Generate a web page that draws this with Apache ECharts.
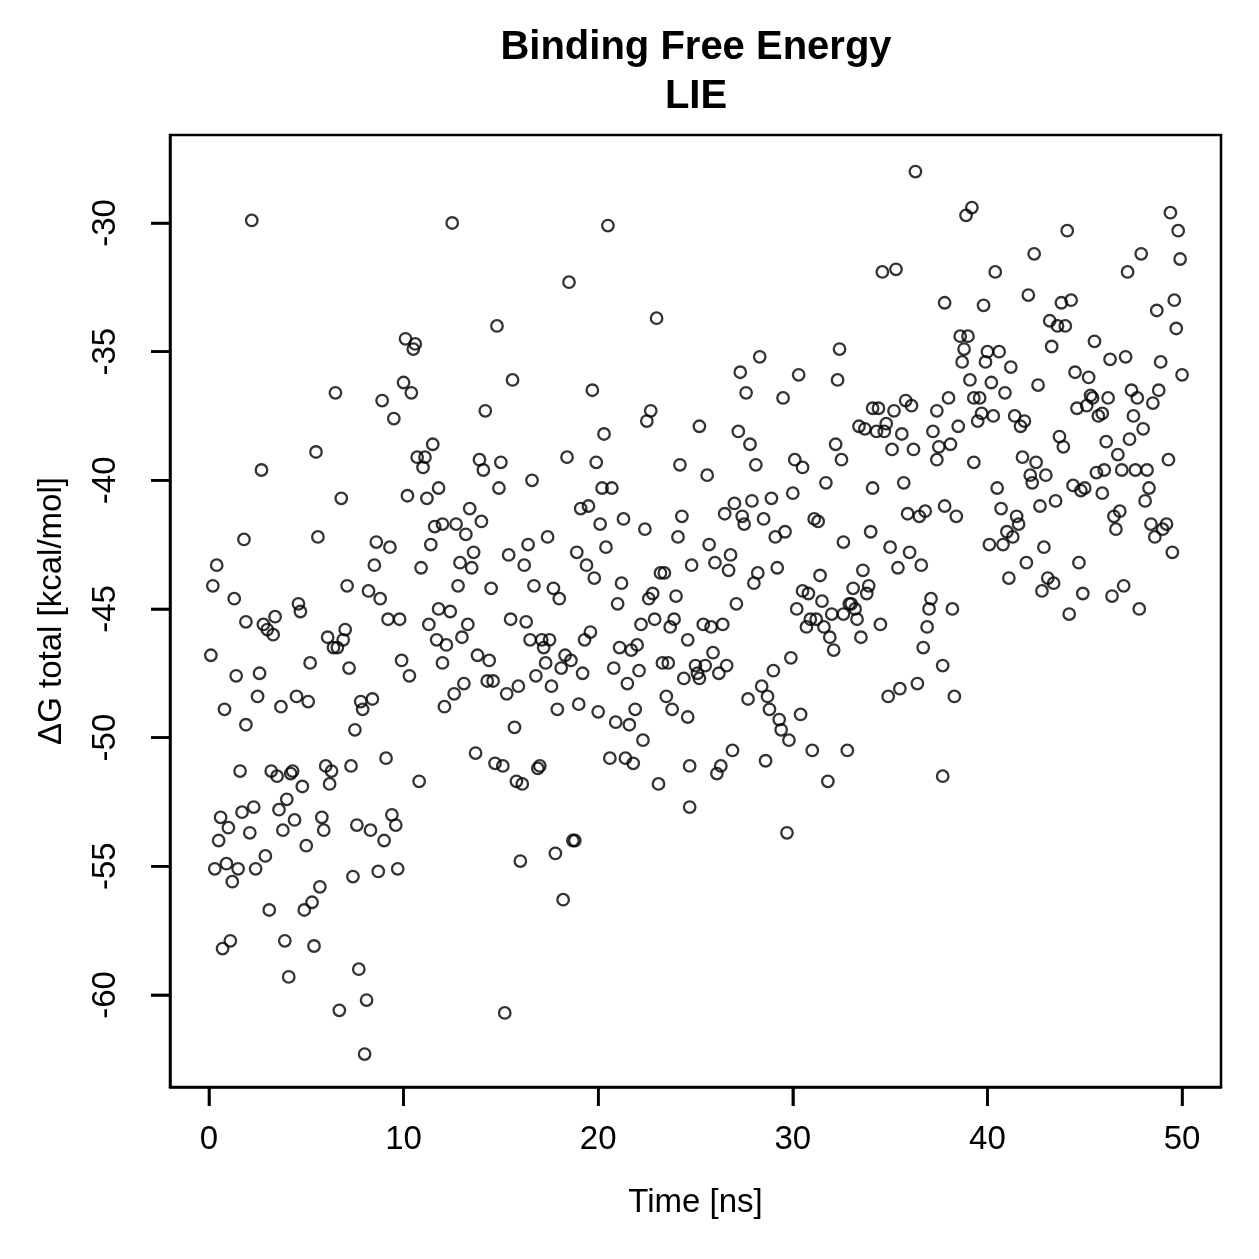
<!DOCTYPE html>
<html>
<head>
<meta charset="utf-8">
<title>Binding Free Energy - LIE</title>
<script src="https://cdn.jsdelivr.net/npm/echarts@6/dist/echarts.min.js"></script>
<style>
    html, body { margin: 0; padding: 0; background: #fff; }
    #chart { width: 1259px; height: 1259px; }
</style>
</head>
<body>
<div id="chart"></div>
<script>
// Simulation time of each frame [ns]
const timeNs = [
    2.2, 10.1, 10.6, 10.5, 10.0, 10.4, 6.5, 8.9, 9.5, 5.5,
    11.5, 10.7, 11.1, 11.0, 2.7, 6.8, 1.8, 5.6, 0.4, 0.2,
    1.3, 1.9, 2.8, 3.0, 3.3, 3.4, 4.6, 4.7, 0.1, 1.4,
    2.6, 5.2, 2.5, 0.8, 3.7, 4.5, 5.1, 1.9, 6.1, 7.0,
    6.9, 6.4, 6.6, 7.2, 7.8, 8.4, 7.9, 7.5, 9.1, 8.6,
    9.3, 8.5, 7.1, 8.2, 8.8, 9.2, 9.8, 9.9, 10.3, 10.2,
    11.2, 11.8, 11.6, 12.0, 11.4, 10.9, 11.8, 11.3, 11.7, 12.0,
    12.1, 1.6, 3.2, 3.5, 4.3, 4.2, 6.0, 6.3, 7.3, 10.8,
    6.2, 4.8, 4.0, 3.6, 2.3, 1.7, 0.6, 1.0, 2.1, 3.8,
    4.4, 5.8, 5.9, 5.0, 7.6, 8.3, 9.0, 9.4, 9.6, 0.5,
    2.9, 0.9, 0.3, 1.5, 1.2, 2.4, 7.4, 8.7, 9.7, 5.7,
    5.3, 4.9, 3.1, 1.1, 0.7, 3.9, 5.4, 7.7, 4.1, 8.1,
    6.7, 8.0, 12.5, 20.5, 18.5, 14.8, 23.0, 15.6, 19.7, 14.2,
    22.7, 22.5, 20.3, 13.9, 14.1, 15.0, 18.4, 19.9, 24.2, 14.9,
    16.6, 20.2, 20.7, 13.4, 19.1, 19.5, 24.3, 21.3, 12.7, 14.0,
    13.2, 20.1, 22.4, 17.4, 24.1, 16.4, 20.4, 13.6, 12.9, 13.5,
    15.4, 16.2, 18.9, 19.4, 19.8, 24.8, 23.2, 23.4, 12.8, 14.5,
    16.7, 17.7, 18.0, 21.2, 21.0, 22.8, 22.6, 24.0, 12.4, 15.5,
    16.3, 13.3, 13.0, 12.2, 19.6, 19.3, 22.2, 22.9, 23.9, 23.7,
    24.6, 16.5, 17.1, 17.5, 17.2, 21.1, 21.7, 22.0, 13.8, 14.4,
    18.3, 18.6, 17.3, 18.1, 19.2, 20.8, 22.1, 23.3, 23.6, 24.4,
    13.1, 14.3, 14.6, 16.8, 15.9, 15.3, 17.6, 21.5, 12.6, 19.0,
    17.9, 20.0, 23.5, 21.9, 23.8, 24.6, 20.9, 21.6, 15.7, 22.3,
    13.7, 14.7, 15.1, 17.0, 20.6, 21.4, 21.8, 24.7, 16.9, 15.8,
    16.1, 23.1, 24.7, 18.7, 18.8, 17.8, 16.0, 18.2, 15.2, 36.3,
    34.6, 35.3, 37.8, 28.3, 32.4, 27.3, 30.3, 32.3, 27.6, 29.5,
    25.2, 27.2, 27.8, 32.2, 34.1, 34.4, 35.2, 35.8, 36.1, 37.4,
    33.4, 33.7, 34.3, 34.7, 34.8, 35.6, 37.2, 35.1, 36.2, 37.5,
    28.1, 30.1, 32.5, 37.4, 25.6, 30.5, 31.7, 34.1, 35.7, 30.0,
    28.9, 27.9, 27.0, 26.5, 27.4, 27.5, 28.5, 31.1, 31.3, 35.9,
    36.5, 36.8, 37.8, 29.6, 29.1, 34.0, 32.6, 35.0, 36.0, 36.6,
    35.4, 25.7, 26.8, 26.0, 26.7, 29.2, 28.2, 28.0, 33.6, 31.4,
    33.1, 33.9, 33.8, 30.5, 30.8, 27.1, 31.5, 32.9, 33.0, 33.2,
    32.6, 32.0, 30.2, 33.3, 30.9, 31.2, 30.7, 31.6, 34.5, 31.9,
    32.1, 33.5, 37.1, 37.0, 36.9, 36.7, 37.7, 25.4, 25.8, 26.4,
    25.9, 25.0, 25.1, 25.2, 25.5, 26.6, 26.2, 29.9, 29.0, 28.4,
    28.7, 27.7, 28.8, 30.4, 29.3, 29.4, 29.8, 26.9, 31.0, 32.8,
    36.4, 35.5, 34.9, 28.6, 26.3, 26.1, 31.8, 37.7, 29.7, 39.2,
    38.9, 44.1, 49.4, 49.8, 42.4, 40.4, 47.9, 49.9, 47.2, 42.1,
    39.8, 43.8, 44.3, 43.2, 43.6, 44.0, 49.6, 48.7, 49.7, 38.6,
    39.0, 38.8, 45.5, 43.3, 40.0, 40.6, 39.9, 38.7, 41.2, 46.3,
    47.1, 48.9, 39.1, 40.2, 40.9, 42.6, 44.5, 45.2, 50.0, 38.0,
    39.3, 39.6, 39.7, 39.5, 40.3, 41.4, 41.9, 41.7, 38.5, 44.6,
    45.1, 45.3, 45.4, 46.2, 45.9, 45.7, 47.4, 47.7, 48.8, 48.5,
    47.5, 48.0, 38.1, 43.7, 43.9, 46.1, 47.3, 46.7, 41.8, 42.5,
    39.3, 49.3, 42.2, 42.3, 43.0, 40.5, 44.4, 44.8, 45.0, 45.6,
    46.0, 46.9, 47.6, 48.2, 48.3, 48.1, 45.9, 43.5, 42.7, 38.4,
    40.7, 41.5, 41.6, 41.0, 41.3, 40.1, 40.8, 42.9, 42.0, 44.7,
    46.8, 46.5, 46.6, 48.4, 49.2, 49.0, 48.6, 49.5, 41.1, 43.1,
    43.4, 42.8, 44.9, 47.0, 46.4, 44.2, 47.8, 38.2, 38.3
];

// Total binding free energy for the same frames [kcal/mol]
const deltaG = [
    -29.9, -34.5, -34.7, -34.9, -36.2, -36.6, -36.6, -36.9, -37.6, -38.9,
    -38.6, -39.1, -39.1, -39.5, -39.6, -40.7, -42.3, -42.2, -43.3, -44.1,
    -44.6, -45.5, -45.6, -45.8, -46.0, -45.3, -44.8, -45.1, -46.8, -47.6,
    -47.5, -47.1, -48.4, -48.9, -48.8, -48.4, -48.6, -49.5, -46.1, -45.8,
    -46.2, -46.5, -46.5, -47.3, -48.6, -48.5, -48.9, -49.7, -50.8, -42.4,
    -42.6, -43.3, -44.1, -44.3, -44.6, -45.4, -45.4, -47.0, -47.6, -40.6,
    -40.7, -40.3, -41.8, -41.7, -42.5, -43.4, -45.0, -45.6, -46.2, -47.1,
    -48.8, -51.3, -51.3, -51.5, -51.3, -51.4, -51.1, -51.3, -51.1, -51.7,
    -51.8, -51.9, -52.4, -52.8, -52.7, -52.9, -53.1, -53.5, -53.7, -53.6,
    -53.2, -53.1, -53.6, -54.2, -53.4, -53.6, -54.0, -53.0, -53.4, -54.0,
    -54.6, -54.9, -55.1, -55.1, -55.6, -55.1, -55.4, -55.2, -55.1, -55.8,
    -56.4, -56.7, -56.7, -57.9, -58.2, -57.9, -58.1, -59.0, -59.3, -60.2,
    -60.6, -62.3, -30.0, -30.1, -32.3, -34.0, -33.7, -36.1, -36.5, -37.3,
    -37.3, -37.7, -38.2, -39.2, -39.6, -39.3, -39.1, -39.3, -39.4, -40.3,
    -40.0, -40.3, -40.3, -41.1, -41.1, -41.0, -41.4, -41.5, -41.7, -41.6,
    -42.1, -41.7, -41.9, -42.2, -42.2, -42.5, -42.6, -42.8, -43.2, -43.4,
    -42.9, -43.3, -42.8, -43.3, -43.8, -43.3, -43.6, -43.6, -44.1, -44.2,
    -44.1, -44.2, -44.6, -44.0, -44.8, -44.4, -44.6, -44.5, -45.1, -45.4,
    -45.5, -45.6, -46.1, -46.4, -45.9, -46.2, -45.6, -45.4, -45.4, -45.7,
    -46.2, -46.2, -46.2, -46.2, -46.5, -46.5, -46.6, -46.4, -46.8, -47.0,
    -46.8, -47.0, -47.1, -47.3, -47.5, -47.3, -47.4, -47.1, -47.1, -47.7,
    -47.9, -47.8, -47.8, -47.6, -48.0, -48.3, -48.0, -47.9, -48.3, -48.7,
    -48.9, -49.0, -48.4, -48.9, -48.9, -49.2, -49.4, -49.5, -49.6, -50.1,
    -50.6, -51.0, -51.1, -51.1, -50.8, -50.8, -51.0, -51.1, -51.2, -51.7,
    -51.8, -51.8, -52.7, -54.0, -54.0, -54.5, -54.8, -56.3, -60.7, -28.0,
    -31.9, -31.8, -33.1, -35.2, -34.9, -35.8, -35.9, -36.1, -36.6, -36.8,
    -37.9, -38.1, -38.6, -38.6, -37.2, -37.2, -37.3, -36.9, -37.1, -37.3,
    -37.9, -38.0, -38.1, -38.1, -37.8, -38.2, -38.1, -38.8, -38.8, -38.7,
    -39.4, -39.2, -39.2, -39.2, -39.8, -39.5, -40.1, -40.3, -40.1, -40.5,
    -40.7, -40.8, -40.9, -41.3, -41.4, -41.7, -41.5, -41.5, -41.6, -41.3,
    -41.4, -41.2, -41.0, -42.0, -42.2, -42.0, -42.4, -42.6, -42.8, -43.3,
    -43.4, -42.5, -42.9, -43.2, -43.5, -43.4, -43.6, -44.0, -43.5, -43.7,
    -44.2, -44.1, -44.4, -44.3, -44.4, -44.8, -44.7, -44.8, -44.8, -45.0,
    -45.2, -45.2, -45.0, -45.4, -45.4, -45.4, -45.7, -45.7, -45.6, -46.1,
    -46.6, -46.1, -44.6, -45.0, -45.7, -46.5, -47.2, -45.6, -45.7, -45.6,
    -46.7, -47.2, -47.5, -47.7, -47.2, -47.2, -47.5, -46.9, -47.4, -48.0,
    -48.4, -48.5, -48.9, -49.1, -49.3, -49.7, -50.1, -50.5, -50.5, -50.5,
    -47.9, -48.1, -48.4, -50.9, -51.1, -51.4, -51.7, -51.5, -53.7, -29.4,
    -29.7, -30.3, -29.6, -30.3, -31.2, -31.9, -31.2, -31.4, -31.9, -32.8,
    -33.2, -33.1, -33.0, -33.8, -34.0, -34.0, -33.0, -33.4, -34.1, -34.4,
    -34.4, -34.9, -34.6, -34.8, -35.0, -35.0, -35.4, -35.4, -35.6, -35.3,
    -35.2, -35.4, -36.1, -36.2, -36.6, -36.3, -35.8, -36.0, -35.9, -36.8,
    -36.8, -36.8, -37.4, -37.7, -37.5, -37.5, -37.7, -37.9, -37.9, -37.2,
    -37.1, -36.7, -36.8, -36.8, -37.4, -37.5, -36.5, -36.8, -36.5, -37.0,
    -37.5, -38.0, -38.6, -38.3, -38.7, -38.5, -38.4, -39.0, -39.1, -39.3,
    -39.3, -39.2, -39.8, -40.1, -39.8, -40.3, -40.2, -40.4, -40.3, -39.7,
    -39.6, -39.6, -39.6, -39.6, -40.3, -40.8, -40.5, -40.8, -41.0, -41.4,
    -41.1, -41.4, -41.7, -42.0, -42.2, -42.5, -42.5, -42.6, -43.2, -43.2,
    -41.2, -41.4, -41.9, -41.7, -41.7, -41.9, -42.2, -42.8, -43.8, -43.8,
    -44.0, -44.3, -44.4, -44.1, -44.5, -45.2, -45.0, -45.0, -48.4
];

// Axis ticks
const xTicks = [0, 10, 20, 30, 40, 50];
const yTicks = [-60, -55, -50, -45, -40, -35, -30];

const FONT = '"Liberation Sans", Arial, Helvetica, sans-serif';
const TICK_LEN = 19;

document.addEventListener('DOMContentLoaded', function() {
    const chart = echarts.init(document.getElementById('chart'), null, { renderer: 'canvas' });

    // pair up time and energy
    const points = timeNs.map((t, i) => [t, deltaG[i]]);

    const xRange = { min: -2, max: 52 };
    const yRange = { min: -63.58, max: -26.58 };

    // outward tick marks, positioned through the axes' own scales
    function renderXTick(params, api) {
        const p = api.coord([api.value(0), api.value(1)]);
        return {
            type: 'line',
            shape: { x1: p[0], y1: p[1], x2: p[0], y2: p[1] + TICK_LEN },
            style: { stroke: '#000', lineWidth: 2.5 }
        };
    }
    function renderYTick(params, api) {
        const p = api.coord([api.value(0), api.value(1)]);
        return {
            type: 'line',
            shape: { x1: p[0], y1: p[1], x2: p[0] - TICK_LEN, y2: p[1] },
            style: { stroke: '#000', lineWidth: 2.5 }
        };
    }

    const option = {
        animation: false,
        backgroundColor: '#fff',
        title: {
            text: 'Binding Free Energy\nLIE',
            left: 696,
            top: 23,
            padding: 0,
            textAlign: 'center',
            textStyle: {
                fontFamily: FONT,
                fontSize: 40,
                fontWeight: 'bold',
                color: '#000',
                lineHeight: 49
            }
        },
        grid: {
            left: 170,
            top: 135,
            width: 1051,
            height: 952,
            show: true,
            borderColor: '#000',
            borderWidth: 2.5
        },
        // axis titles
        graphic: [
            {
                type: 'text',
                x: 695.5,
                y: 1203,
                style: { text: 'Time [ns]', fontFamily: FONT, fontSize: 33, fill: '#000', align: 'center', verticalAlign: 'middle' }
            },
            {
                type: 'text',
                x: 52,
                y: 611,
                rotation: Math.PI / 2,
                style: { text: 'ΔG total [kcal/mol]', fontFamily: FONT, fontSize: 33, fill: '#000', align: 'center', verticalAlign: 'middle' }
            }
        ],
        xAxis: {
            type: 'value',
            min: xRange.min,
            max: xRange.max,
            position: 'bottom',
            axisLine: { show: true, onZero: false, lineStyle: { color: '#000', width: 2.5 } },
            splitLine: { show: false },
            axisTick: { show: true, customValues: xTicks, length: TICK_LEN, lineStyle: { color: '#000', width: 2.5 } },
            axisLabel: {
                customValues: xTicks,
                margin: 36,
                fontFamily: FONT,
                fontSize: 33,
                color: '#000'
            }
        },
        yAxis: {
            type: 'value',
            min: yRange.min,
            max: yRange.max,
            position: 'left',
            axisLine: { show: true, onZero: false, lineStyle: { color: '#000', width: 2.5 } },
            splitLine: { show: false },
            axisTick: { show: true, customValues: yTicks, length: TICK_LEN, lineStyle: { color: '#000', width: 2.5 } },
            axisLabel: {
                customValues: yTicks,
                rotate: 90,
                margin: 48,
                fontFamily: FONT,
                fontSize: 33,
                color: '#000'
            }
        },
        series: [
            {
                name: 'LIE',
                type: 'scatter',
                data: points,
                symbol: 'circle',
                symbolSize: 11.5,
                silent: true,
                itemStyle: {
                    color: 'transparent',
                    borderColor: '#000',
                    borderWidth: 2.3
                },
                emphasis: { disabled: true }
            },
            {
                name: 'xTicks',
                type: 'custom',
                silent: true,
                clip: false,
                data: xTicks.map(v => [v, yRange.min]),
                renderItem: renderXTick
            },
            {
                name: 'yTicks',
                type: 'custom',
                silent: true,
                clip: false,
                data: yTicks.map(v => [xRange.min, v]),
                renderItem: renderYTick
            }
        ]
    };

    chart.setOption(option);
});
</script>
</body>
</html>
